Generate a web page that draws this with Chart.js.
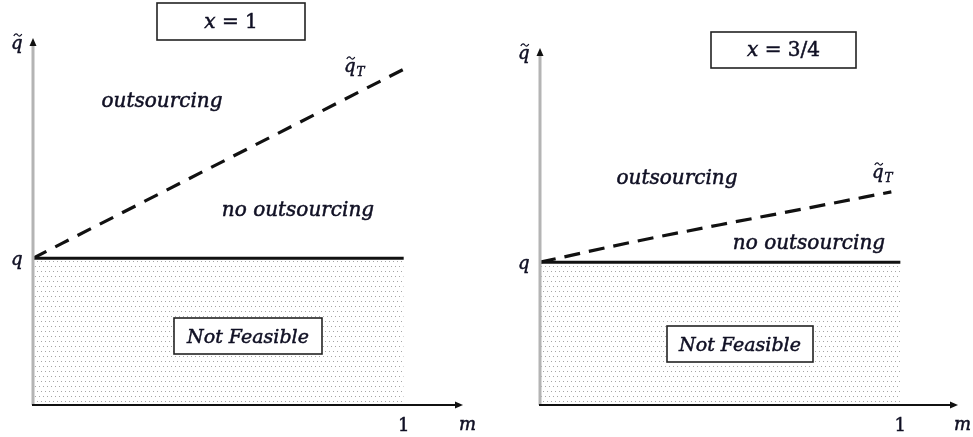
<!DOCTYPE html>
<html>
<head>
<meta charset="utf-8">
<script src="https://cdn.jsdelivr.net/npm/chart.js@4"></script>
<style>
  body { margin: 0; background: #fff; }
  #wrap { position: relative; width: 973px; height: 437px; }
  canvas { position: absolute; top: 0; }
</style>
</head>
<body>
<div id="wrap">
  <canvas id="left" width="486" height="437" style="left:0"></canvas>
  <canvas id="right" width="487" height="437" style="left:486px"></canvas>
</div>
<script>
// values (m on the x axis, q-tilde on the y axis)
const qLevel = 0.40;
const feasibleM = [0, 1];
const mLeft = [0, 1.01];
const qTLeft = [0.40, 0.92];
const mRight = [0, 0.25, 0.5, 0.75, 0.975];
const qTRight = [0.40, 0.455, 0.505, 0.553, 0.597];
const panelTitles = ['x = 1', 'x = 3/4'];

const ink = '#101024';
const font = '"DejaVu Serif", serif';

function dots() {
  const c = document.createElement('canvas');
  c.width = 8; c.height = 10;
  const g = c.getContext('2d');
  g.fillStyle = '#a6a6a6';
  g.fillRect(1, 1, 1, 1); g.fillRect(5, 1, 1, 1);
  g.fillRect(3, 6, 1, 1); g.fillRect(7, 6, 1, 1);
  return g.createPattern(c, 'repeat');
}

function pts(xs, ys) {
  return xs.map((x, i) => ({x: x, y: ys[i]}));
}

// text with a thin outline so it reads as heavy as the original
function txt(ctx, s, x, y) {
  ctx.fillText(s, x, y);
  ctx.lineWidth = 0.5;
  ctx.strokeStyle = ink;
  ctx.strokeText(s, x, y);
}

// draw "q~" with an optional subscript
function qTilde(ctx, x, y, sub) {
  ctx.font = 'italic 18px ' + font;
  ctx.textAlign = 'left';
  txt(ctx, 'q', x, y);
  const w = ctx.measureText('q').width;
  // tilde as a small wave
  const cx = x + w / 2 + 1, cy = y - 14;
  ctx.beginPath();
  ctx.moveTo(cx - 4, cy + 1);
  ctx.bezierCurveTo(cx - 2.5, cy - 2, cx - 1, cy - 1.5, cx, cy);
  ctx.bezierCurveTo(cx + 1, cy + 1.5, cx + 2.5, cy + 2, cx + 4, cy - 1);
  ctx.lineWidth = 1.2;
  ctx.strokeStyle = ink;
  ctx.stroke();
  if (sub) {
    ctx.font = 'italic 12px ' + font;
    txt(ctx, sub, x + w + 1, y + 4);
  }
}

function box(ctx, x0, y0, x1, y1) {
  ctx.fillStyle = '#fff';
  ctx.fillRect(x0, y0, x1 - x0, y1 - y0);
  ctx.strokeStyle = '#222';
  ctx.lineWidth = 1.6;
  ctx.strokeRect(x0, y0, x1 - x0, y1 - y0);
}

const decor = {
  id: 'decor',
  afterDatasetsDraw(chart, args, o) {
    const ctx = chart.ctx, xs = chart.scales.x, ys = chart.scales.y;
    const a = chart.chartArea;
    const X = v => xs.getPixelForValue(v), Y = v => ys.getPixelForValue(v);
    ctx.save();
    // y axis (grey) with arrow
    ctx.strokeStyle = '#b4b4b4';
    ctx.lineWidth = 3;
    ctx.beginPath(); ctx.moveTo(a.left, a.bottom); ctx.lineTo(a.left, a.top + 6); ctx.stroke();
    ctx.fillStyle = '#111';
    ctx.beginPath(); ctx.moveTo(a.left, a.top); ctx.lineTo(a.left - 3.5, a.top + 8); ctx.lineTo(a.left + 3.5, a.top + 8); ctx.fill();
    // x axis with arrow
    ctx.strokeStyle = '#111';
    ctx.lineWidth = 2;
    ctx.beginPath(); ctx.moveTo(a.left - 1, a.bottom); ctx.lineTo(a.right - 6, a.bottom); ctx.stroke();
    ctx.beginPath(); ctx.moveTo(a.right, a.bottom); ctx.lineTo(a.right - 8, a.bottom - 3.5); ctx.lineTo(a.right - 8, a.bottom + 3.5); ctx.fill();

    ctx.fillStyle = ink;
    ctx.textBaseline = 'alphabetic';
    // axis labels
    qTilde(ctx, a.left - 22, a.top + 11);
    ctx.font = 'italic 18px ' + font;
    ctx.textAlign = 'left';
    txt(ctx, 'q', a.left - 22, Y(qLevel) + 7);
    txt(ctx, 'm', a.right - 4, a.bottom + 25);
    ctx.font = '18px ' + font;
    ctx.textAlign = 'center';
    txt(ctx, '1', X(1), a.bottom + 26);

    // region labels
    ctx.font = 'italic 20px ' + font;
    txt(ctx, 'outsourcing', o.out[0], o.out[1]);
    txt(ctx, 'no outsourcing', o.noOut[0], o.noOut[1]);
    qTilde(ctx, o.qT[0], o.qT[1], 'T');

    // boxed labels
    const nf = o.nf;
    box(ctx, nf[0], nf[1], nf[2], nf[3]);
    ctx.fillStyle = ink;
    ctx.font = 'italic 19px ' + font;
    ctx.textAlign = 'center';
    txt(ctx, 'Not Feasible', (nf[0] + nf[2]) / 2, nf[3] - 11);

    const tb = o.title;
    box(ctx, tb[0], tb[1], tb[2], tb[3]);
    ctx.fillStyle = ink;
    const parts = o.titleText.split(' = ');
    ctx.font = 'italic 20px ' + font;
    const w1 = ctx.measureText(parts[0]).width;
    ctx.font = '20px ' + font;
    const rest = ' = ' + parts[1];
    const w2 = ctx.measureText(rest).width;
    const sx = (tb[0] + tb[2]) / 2 - (w1 + w2) / 2;
    const by = tb[3] - 12;
    ctx.textAlign = 'left';
    ctx.font = 'italic 20px ' + font;
    txt(ctx, parts[0], sx, by);
    ctx.font = '20px ' + font;
    txt(ctx, rest, sx + w1, by);
    ctx.restore();
  }
};

function panel(id, mq, qq, pad, dash, opts) {
  return new Chart(document.getElementById(id), {
    type: 'line',
    data: {
      datasets: [
        {
          data: pts(feasibleM, [qLevel, qLevel]),
          borderColor: '#111',
          borderWidth: 3,
          backgroundColor: dots(),
          fill: 'origin',
          pointRadius: 0
        },
        {
          data: pts(mq, qq),
          borderColor: '#111',
          borderWidth: 3.2,
          borderDash: dash,
          fill: false,
          pointRadius: 0,
          cubicInterpolationMode: 'monotone'
        }
      ]
    },
    options: {
      responsive: false,
      animation: false,
      layout: { padding: pad },
      scales: {
        x: { type: 'linear', min: 0, max: 1.16, display: false },
        y: { min: 0, max: 1, display: false }
      },
      plugins: {
        legend: { display: false },
        tooltip: { enabled: false },
        decor: opts
      }
    },
    plugins: [decor]
  });
}

panel('left', mLeft, qTLeft, { left: 33, right: 23, top: 38, bottom: 32 }, [15, 10], {
  out: [162, 107], noOut: [298, 216], qT: [344, 72],
  nf: [174, 318, 322, 354], title: [157, 3, 305, 40], titleText: panelTitles[0]
});
panel('right', mRight, qTRight, { left: 54, right: 15, top: 48, bottom: 32 }, [16, 9], {
  out: [191, 184], noOut: [323, 249], qT: [386, 178],
  nf: [181, 326, 327, 362], title: [225, 32, 370, 68], titleText: panelTitles[1]
});
</script>
</body>
</html>
